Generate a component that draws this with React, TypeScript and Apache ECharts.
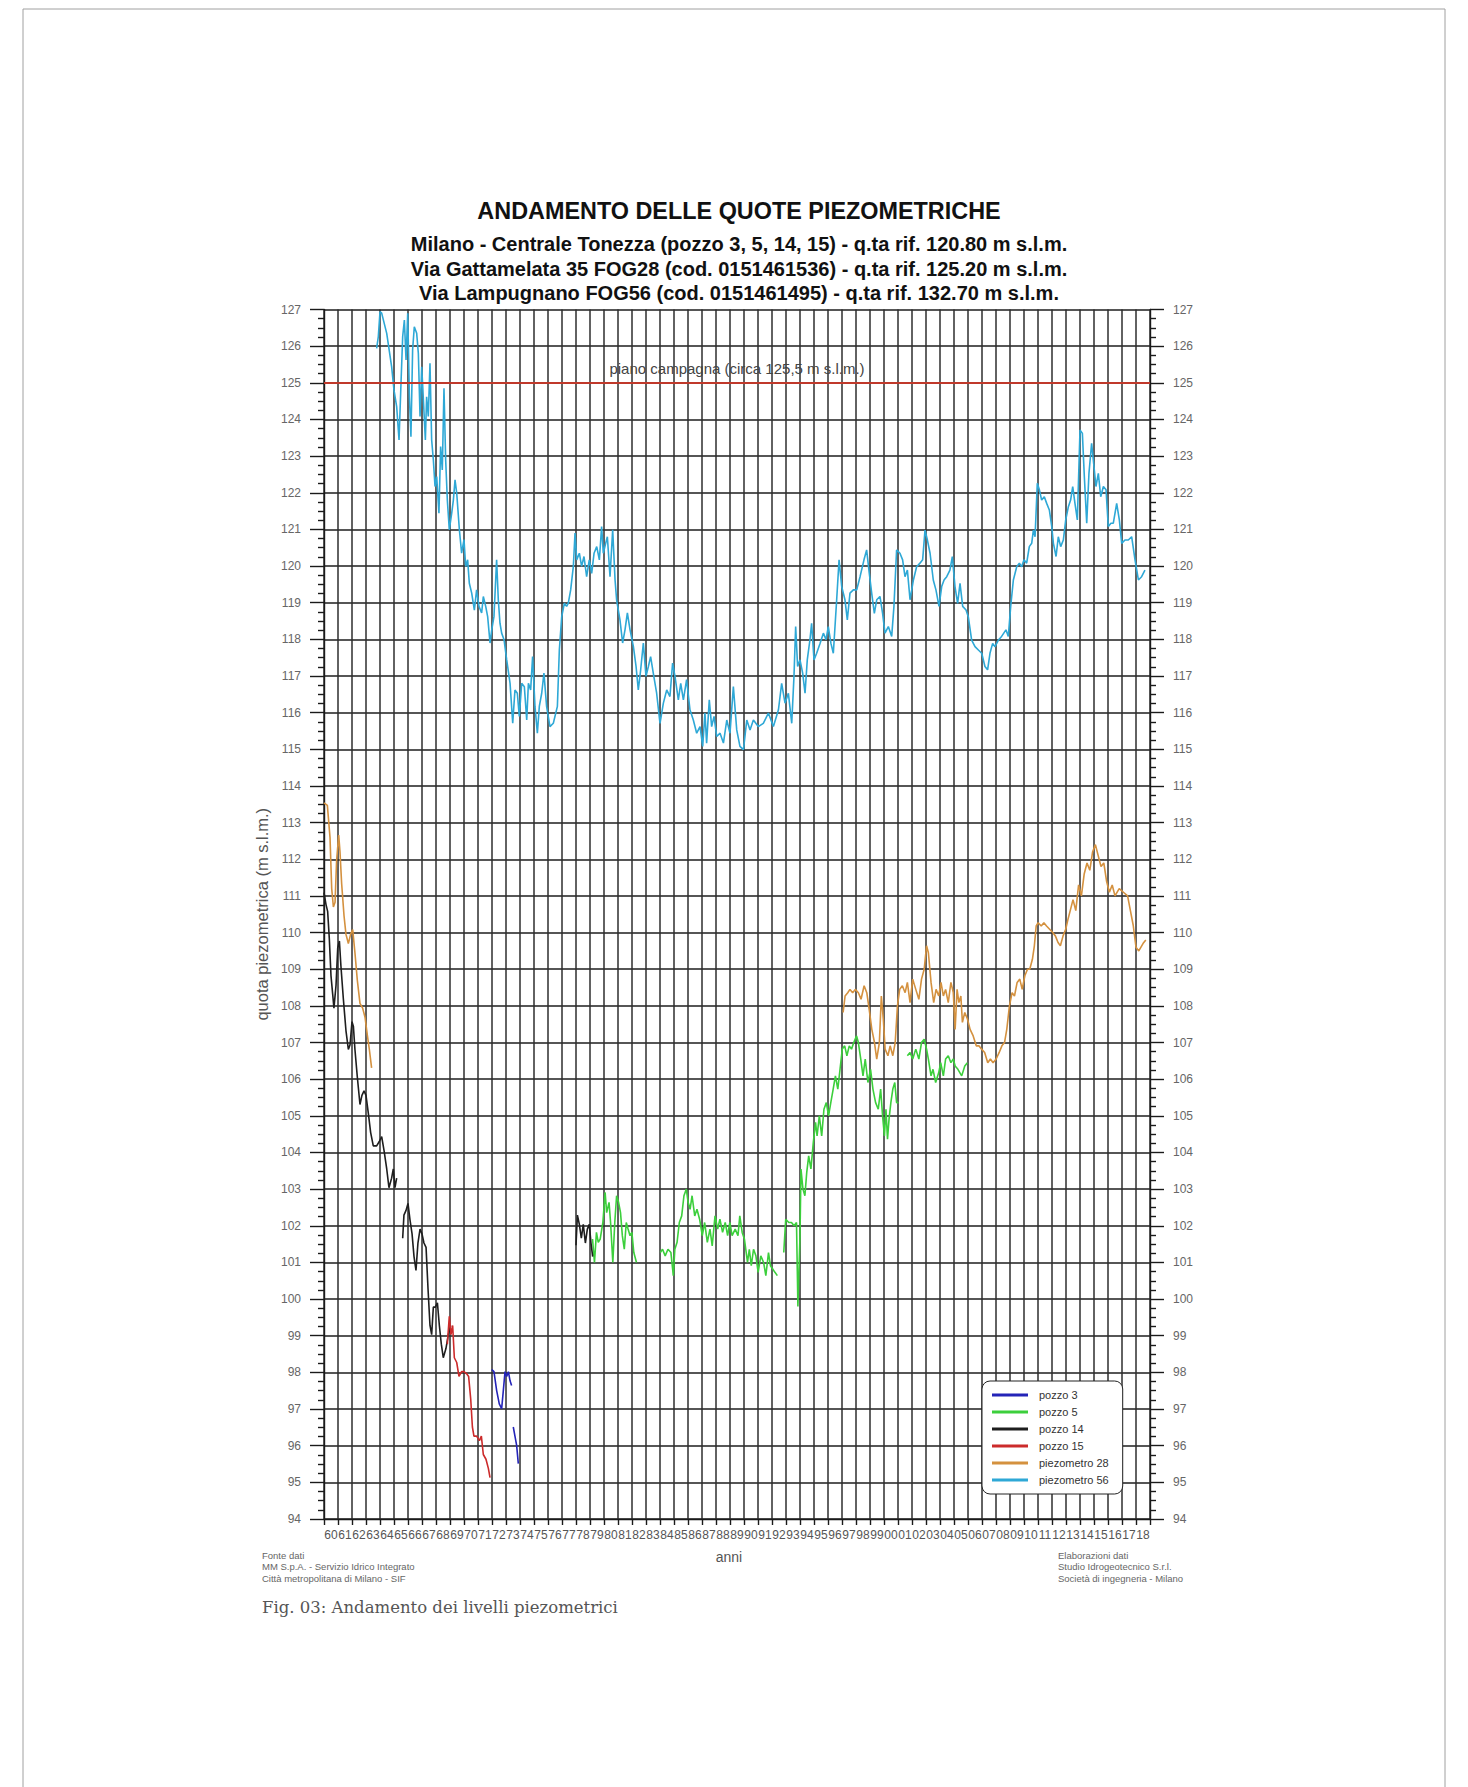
import React, { useEffect, useRef } from 'react';
import * as echarts from 'echarts';

const yearLabels = ['60','61','62','63','64','65','66','67','68','69','70','71','72','73','74','75','76','77','78','79','80','81','82','83','84','85','86','87','88','89','90','91','92','93','94','95','96','97','98','99','00','01','02','03','04','05','06','07','08','09','10','11','12','13','14','15','16','17','18'];

const seriesNames = ['pozzo 3', 'pozzo 5', 'pozzo 14', 'pozzo 15', 'piezometro 28', 'piezometro 56'];
const seriesColors = ['#2424b8', '#3ccf3c', '#1e1e1e', '#cc2b2b', '#d4913f', '#2ea8d6'];

const piezometro56: [number, number][] = [
  [1963.76,125.94],[1963.88,126.26],[1964.0,126.94],[1964.12,126.9],[1964.48,126.35],[1964.83,125.44],[1965.0,124.8],[1965.19,124.35],[1965.36,123.44],[1965.5,124.99],[1965.62,126.26],[1965.74,126.71],[1965.86,125.62],[1965.98,126.9],[1966.1,124.62],[1966.21,123.53],[1966.33,125.9],[1966.45,126.53],[1966.62,126.35],[1966.74,125.8],[1966.86,124.08],[1966.98,125.44],[1967.1,124.53],[1967.24,123.44],[1967.33,124.62],[1967.45,124.08],[1967.57,125.53],[1967.69,123.44],[1967.81,122.9],[1967.93,122.17],[1968.05,122.44],[1968.21,121.44],[1968.33,123.26],[1968.45,122.62],[1968.57,124.85],[1968.69,122.9],[1968.81,121.8],[1968.95,120.99],[1969.12,121.44],[1969.24,121.8],[1969.36,122.35],[1969.48,121.99],[1969.67,120.99],[1969.83,120.35],[1970.0,120.72],[1970.12,119.99],[1970.26,120.17],[1970.38,119.53],[1970.55,119.26],[1970.74,118.8],[1970.9,119.35],[1971.07,118.9],[1971.26,118.72],[1971.38,119.17],[1971.55,118.9],[1971.69,118.62],[1971.86,117.9],[1971.98,118.26],[1972.14,118.62],[1972.33,120.17],[1972.45,119.08],[1972.57,118.44],[1972.69,118.17],[1972.86,117.99],[1973.05,117.44],[1973.29,116.8],[1973.48,115.71],[1973.64,116.62],[1973.81,116.53],[1973.95,115.9],[1974.12,116.8],[1974.31,116.71],[1974.48,115.8],[1974.6,116.8],[1974.76,116.62],[1974.9,117.53],[1975.07,116.17],[1975.24,115.44],[1975.38,116.17],[1975.55,116.53],[1975.71,117.08],[1975.9,116.17],[1976.14,115.62],[1976.38,115.71],[1976.67,116.17],[1976.81,117.71],[1976.98,118.62],[1977.17,118.99],[1977.33,118.9],[1977.45,118.99],[1977.62,119.35],[1977.81,119.99],[1977.93,120.9],[1978.05,120.17],[1978.24,120.35],[1978.4,119.99],[1978.57,120.26],[1978.76,119.71],[1978.95,120.17],[1979.12,119.8],[1979.29,120.35],[1979.48,120.53],[1979.67,120.17],[1979.83,121.08],[1979.95,120.35],[1980.12,120.62],[1980.24,120.8],[1980.43,119.71],[1980.62,120.99],[1980.79,119.62],[1980.9,119.08],[1981.14,118.53],[1981.33,117.9],[1981.5,118.26],[1981.67,118.72],[1981.86,118.26],[1982.1,117.8],[1982.29,117.26],[1982.45,116.62],[1982.62,117.17],[1982.81,117.9],[1983.0,116.99],[1983.17,117.26],[1983.33,117.53],[1983.52,117.08],[1983.76,116.53],[1984.0,115.71],[1984.24,116.26],[1984.48,116.62],[1984.71,116.44],[1984.9,117.35],[1985.07,116.99],[1985.31,116.35],[1985.48,116.8],[1985.67,116.35],[1985.9,116.9],[1986.14,116.08],[1986.38,115.8],[1986.62,115.44],[1986.86,115.62],[1987.05,115.08],[1987.21,115.99],[1987.33,115.17],[1987.52,116.35],[1987.69,115.62],[1987.86,115.9],[1988.05,115.35],
  [1988.29,115.44],[1988.53,115.17],[1988.77,115.8],[1989.0,115.44],[1989.24,116.71],[1989.48,115.53],[1989.71,115.08],[1989.96,114.99],[1990.2,115.8],[1990.43,115.53],[1990.67,115.8],[1991.02,115.62],[1991.38,115.71],[1991.74,115.99],[1992.1,115.62],[1992.46,116.08],[1992.69,116.8],[1992.93,116.26],[1993.17,116.53],[1993.41,115.71],[1993.57,116.99],[1993.69,118.35],[1993.83,117.26],[1994.0,117.44],[1994.19,117.08],[1994.36,116.53],[1994.52,117.44],[1994.71,117.99],[1994.83,118.44],[1995.0,117.44],[1995.19,117.62],[1995.43,117.89],[1995.67,118.17],[1995.86,117.99],[1996.02,118.35],[1996.21,117.89],[1996.38,117.62],[1996.62,119.08],[1996.79,120.17],[1996.98,119.44],[1997.21,119.08],[1997.38,118.53],[1997.57,119.26],[1997.81,119.35],[1998.05,119.35],[1998.29,119.71],[1998.57,120.17],[1998.76,120.44],[1998.95,119.8],[1999.12,119.26],[1999.31,118.71],[1999.48,119.08],[1999.71,119.17],[1999.9,118.71],[2000.07,118.17],[2000.31,118.35],[2000.55,118.08],[2000.71,118.9],[2000.9,120.44],[2001.14,120.35],[2001.33,120.17],[2001.5,119.71],[2001.67,119.89],[2001.86,119.08],[2002.1,119.62],[2002.33,119.98],[2002.57,120.08],[2002.76,120.17],[2002.93,120.98],[2003.1,120.71],[2003.29,120.35],[2003.52,119.62],[2003.71,119.35],[2003.93,118.9],[2004.12,119.44],[2004.29,119.62],[2004.48,119.71],[2004.71,119.89],[2004.88,120.26],[2005.07,119.44],[2005.26,118.98],[2005.43,119.53],[2005.62,118.9],[2005.86,118.8],[2006.02,118.62],[2006.26,117.98],[2006.5,117.8],[2006.74,117.71],[2006.98,117.62],[2007.21,117.26],[2007.4,117.17],[2007.57,117.62],[2007.76,117.89],[2007.93,117.8],[2008.17,117.98],[2008.4,118.08],[2008.71,118.26],[2008.88,118.08],[2009.05,118.9],[2009.24,119.62],[2009.48,119.98],[2009.67,120.08],[2009.83,119.98],[2010.0,120.17],[2010.19,120.08],[2010.38,120.53],[2010.55,120.62],[2010.67,120.98],[2010.79,120.8],[2010.95,122.26],[2011.1,122.08],[2011.26,121.8],[2011.45,121.89],[2011.62,121.71],[2011.81,121.53],[2011.98,121.08],[2012.1,120.62],[2012.29,120.26],[2012.45,120.8],[2012.62,120.53],[2012.81,120.71],[2012.98,121.26],[2013.17,121.62],[2013.33,121.8],[2013.48,122.17],[2013.64,121.71],[2013.81,121.26],[2014.0,123.71],[2014.17,123.62],[2014.31,122.44],[2014.48,121.17],[2014.64,122.53],[2014.83,123.35],[2015.0,122.71],[2015.14,122.17],[2015.31,122.53],[2015.48,121.89],[2015.67,122.17],[2015.86,122.08],[2016.02,121.08],[2016.21,121.17],[2016.38,121.17],[2016.62,121.71],[2016.81,121.26],[2016.98,120.62],[2017.21,120.71],[2017.45,120.71],[2017.69,120.8],[2017.93,120.17],[2018.17,119.62],[2018.4,119.71],[2018.64,119.89]
];

const piezometro28Early: [number, number][] = [
  [1960.0,113.54],[1960.24,113.47],[1960.43,112.59],[1960.55,111.2],[1960.67,110.7],[1960.79,110.83],[1960.9,111.96],[1961.05,112.66],[1961.14,112.22],[1961.26,111.34],[1961.43,110.46],[1961.57,109.95],[1961.74,109.7],[1961.9,109.95],[1962.05,110.08],[1962.21,109.45],[1962.38,108.7],[1962.57,108.07],[1962.76,107.94],[1962.93,107.69],[1963.1,107.19],[1963.24,106.81],[1963.4,106.31]
];

const piezometro28Late: [number, number][] = [
  [1997.08,107.82],[1997.22,108.27],[1997.41,108.36],[1997.57,108.45],[1997.76,108.36],[1997.95,108.45],[1998.17,108.36],[1998.36,108.18],[1998.58,108.55],[1998.77,108.36],[1998.94,107.91],[1999.13,107.36],[1999.32,107.0],[1999.48,106.55],[1999.67,107.0],[1999.81,108.27],[1999.95,107.64],[2000.08,106.82],[2000.28,106.64],[2000.44,106.91],[2000.63,106.64],[2000.8,107.0],[2000.96,108.0],[2001.12,108.45],[2001.31,108.55],[2001.51,108.36],[2001.67,108.64],[2001.86,108.09],[2002.05,108.73],[2002.27,108.45],[2002.49,108.18],[2002.68,108.73],[2002.87,109.0],[2003.04,109.64],[2003.17,109.45],[2003.36,108.64],[2003.55,108.09],[2003.72,108.45],[2003.91,108.27],[2004.07,108.64],[2004.24,108.27],[2004.4,108.45],[2004.59,108.09],[2004.78,108.64],[2004.95,108.36],[2005.08,107.36],[2005.22,108.45],[2005.35,108.09],[2005.49,108.27],[2005.6,107.55],[2005.77,107.82],[2005.96,107.64],[2006.15,107.36],[2006.37,107.18],[2006.59,106.91],[2006.78,106.91],[2006.97,106.82],[2007.19,106.73],[2007.41,106.45],[2007.6,106.55],[2007.79,106.45],[2008.01,106.55],[2008.23,106.73],[2008.42,106.91],[2008.61,107.0],[2008.77,107.36],[2008.96,108.0],[2009.15,108.36],[2009.32,108.27],[2009.51,108.64],[2009.7,108.73],[2009.87,108.45],[2010.06,108.82],[2010.25,109.0],[2010.41,109.0],[2010.6,109.27],[2010.74,109.64],[2010.87,110.18],[2011.01,110.27],[2011.23,110.18],[2011.42,110.27],[2011.61,110.18],[2011.83,110.09],[2012.05,110.0],[2012.24,109.91],[2012.43,109.73],[2012.6,109.64],[2012.79,109.91],[2012.98,110.09],[2013.14,110.36],[2013.33,110.64],[2013.5,110.9],[2013.7,110.6],[2013.9,111.3],[2014.1,111.0],[2014.3,111.6],[2014.5,111.9],[2014.7,111.7],[2014.9,112.2],[2015.1,112.4],[2015.3,112.1],[2015.5,111.8],[2015.7,111.9],[2015.9,111.4],[2016.1,111.1],[2016.3,111.3],[2016.5,111.0],[2016.8,111.2],[2017.1,111.1],[2017.4,111.0],[2017.6,110.6],[2017.8,110.2],[2018.0,109.6],[2018.2,109.5],[2018.5,109.7],[2018.7,109.8]
];

const pozzo14A: [number, number][] = [
  [1960.0,111.09],[1960.14,110.77],[1960.26,110.58],[1960.38,109.83],[1960.5,108.82],[1960.62,108.32],[1960.71,107.94],[1960.86,108.57],[1960.98,109.58],[1961.1,109.77],[1961.21,109.08],[1961.38,108.2],[1961.57,107.32],[1961.74,106.81],[1961.86,106.94],[1962.0,107.57],[1962.1,107.44],[1962.21,106.81],[1962.38,106.06],[1962.57,105.31],[1962.71,105.56],[1962.86,105.68],[1963.0,105.56],[1963.17,105.06],[1963.33,104.55],[1963.52,104.18],[1963.76,104.18],[1963.95,104.3],[1964.12,104.43],[1964.29,104.05],[1964.48,103.55],[1964.64,103.04],[1964.83,103.3],[1964.95,103.55],[1965.07,103.04],[1965.19,103.3]
];
const pozzo14B: [number, number][] = [
  [1965.62,101.66],[1965.71,102.29],[1965.86,102.42],[1966.0,102.61],[1966.14,102.17],[1966.29,101.78],[1966.43,101.16],[1966.57,100.78],[1966.71,101.53],[1966.86,101.91],[1967.0,101.78],[1967.14,101.53],[1967.29,101.41],[1967.43,100.28],[1967.57,99.28],[1967.69,99.03],[1967.81,99.78],[1967.95,99.78],[1968.1,99.9],[1968.24,99.28],[1968.38,98.77],[1968.52,98.4],[1968.71,98.65],[1968.88,99.03],[1969.05,99.28]
];
const pozzo14C: [number, number][] = [
  [1978.0,101.47],[1978.1,102.29],[1978.24,102.04],[1978.38,101.66],[1978.52,102.04],[1978.67,101.53],[1978.81,101.91],[1978.95,102.04],[1979.07,101.53],[1979.19,101.16]
];

const pozzo15: [number, number][] = [
  [1968.81,98.77],[1968.95,99.53],[1969.07,99.03],[1969.19,99.28],[1969.31,98.4],[1969.48,98.27],[1969.64,97.89],[1969.83,98.02],[1970.0,98.02],[1970.19,97.96],[1970.33,97.89],[1970.48,97.27],[1970.6,96.51],[1970.71,96.26],[1970.9,96.26],[1971.1,96.14],[1971.24,96.26],[1971.38,95.76],[1971.57,95.63],[1971.74,95.38],[1971.86,95.13]
];

const pozzo3A: [number, number][] = [
  [1971.98,98.08],[1972.14,98.02],[1972.33,97.51],[1972.52,97.14],[1972.69,97.01],[1972.81,97.51],[1972.93,98.02],[1973.05,97.89],[1973.17,98.02],[1973.29,97.77],[1973.4,97.64]
];
const pozzo3B: [number, number][] = [
  [1973.52,96.51],[1973.64,96.26],[1973.76,96.01],[1973.88,95.51]
];

const pozzo5A: [number, number][] = [
  [1979.18,101.64],[1979.32,101.0],[1979.46,101.82],[1979.59,101.55],[1979.73,101.64],[1979.92,102.09],[1980.08,102.91],[1980.19,102.36],[1980.36,102.64],[1980.47,102.09],[1980.63,101.0],[1980.77,102.09],[1980.9,102.82],[1981.04,102.64],[1981.18,102.36],[1981.31,101.73],[1981.45,101.36],[1981.59,102.09],[1981.72,101.91],[1981.86,101.73],[1981.99,101.82],[1982.13,101.27],[1982.32,101.0]
];
const pozzo5B: [number, number][] = [
  [1984.02,101.27],[1984.18,101.36],[1984.37,101.18],[1984.57,101.36],[1984.78,101.27],[1984.95,100.64],[1985.06,101.36],[1985.22,101.55],[1985.38,102.09],[1985.55,102.27],[1985.71,102.82],[1985.88,103.0],[1986.01,102.64],[1986.15,102.45],[1986.29,102.82],[1986.48,102.27],[1986.64,102.45],[1986.83,102.18],[1987.02,101.73],[1987.19,102.09],[1987.38,101.55],[1987.57,101.91],[1987.73,101.45],[1987.93,102.27],[1988.12,101.91],[1988.28,102.18],[1988.47,101.82],[1988.66,102.09],[1988.83,101.73],[1988.99,102.09],[1989.15,101.73],[1989.37,101.91],[1989.57,101.73],[1989.7,102.27],[1989.87,101.82],[1990.03,101.64],[1990.25,101.0],[1990.38,101.36],[1990.52,100.91],[1990.68,101.36],[1990.85,101.18],[1991.01,100.73],[1991.2,101.18],[1991.4,101.0],[1991.56,100.64],[1991.75,101.27],[1991.89,100.91],[1992.05,100.82],[1992.21,100.73],[1992.38,100.64]
];
const pozzo5C: [number, number][] = [
  [1992.84,101.27],[1992.98,102.18],[1993.2,102.09],[1993.39,102.09],[1993.58,102.0],[1993.75,102.09],[1993.85,99.8],[1994.0,101.73],[1994.07,103.55],[1994.21,103.0],[1994.35,102.82],[1994.48,103.45],[1994.62,103.91],[1994.78,103.55],[1994.95,104.27],[1995.11,104.82],[1995.22,104.45],[1995.38,105.0],[1995.55,104.45],[1995.71,105.18],[1995.88,105.36],[1996.04,105.0],[1996.2,105.36],[1996.37,105.73],[1996.53,106.09],[1996.7,105.73],[1996.86,106.27],[1997.02,106.82],[1997.19,106.91],[1997.35,106.64],[1997.52,106.91],[1997.68,106.82],[1997.84,107.0],[1998.04,107.18],[1998.17,107.0],[1998.34,106.55],[1998.5,106.09],[1998.66,106.55],[1998.85,105.91],[1999.04,106.27],[1999.21,105.73],[1999.4,105.36],[1999.59,105.18],[1999.76,105.73],[1999.9,105.0],[2000.03,104.45],[2000.14,105.18],[2000.25,104.36],[2000.36,104.91],[2000.49,105.36],[2000.63,105.73],[2000.77,105.91],[2000.9,105.36],[2001.04,105.36]
];
const pozzo5D: [number, number][] = [
  [2001.67,106.64],[2001.86,106.73],[2002.05,106.55],[2002.27,106.82],[2002.49,106.55],[2002.68,107.0],[2002.87,107.09],[2003.04,106.82],[2003.17,106.55],[2003.36,106.09],[2003.5,106.27],[2003.69,105.91],[2003.91,106.18],[2004.05,106.45],[2004.24,106.09],[2004.4,106.55],[2004.59,106.64],[2004.78,106.45],[2004.95,106.55],[2005.08,106.36],[2005.28,106.27],[2005.55,106.09],[2005.77,106.36],[2005.96,106.45]
];

const groundLevel = 125;
const groundLabel = 'piano campagna (circa 125,5 m s.l.m.)';

function joinSegments(segs: [number, number][][]): any[] {
  const out: any[] = [];
  segs.forEach((s, i) => {
    if (i > 0) {
      const prev = segs[i - 1][segs[i - 1].length - 1][0];
      out.push([(prev + s[0][0]) / 2, '-']);
    }
    s.forEach((p) => out.push(p));
  });
  return out;
}

const FONT = "'Liberation Sans', Arial, Helvetica, sans-serif";

export default function App() {
  const ref = useRef<HTMLDivElement>(null);
  useEffect(() => {
    document.body.style.margin = '0';
    const chart = echarts.init(ref.current as HTMLDivElement, null, { renderer: 'svg' });
    const seriesData = [
      joinSegments([pozzo3A, pozzo3B]),
      joinSegments([pozzo5A, pozzo5B, pozzo5C, pozzo5D]),
      joinSegments([pozzo14A, pozzo14B, pozzo14C]),
      pozzo15,
      joinSegments([piezometro28Early, piezometro28Late]),
      piezometro56,
    ];
    const axisColor = '#1a1a1a';
    const yCommon = {
      type: 'value',
      min: 94,
      max: 127,
      interval: 1,
      axisLine: { show: true, lineStyle: { color: axisColor, width: 1.4 } },
      axisTick: { show: true, length: 14, lineStyle: { color: axisColor, width: 1.4 } },
      minorTick: { show: true, splitNumber: 4, length: 6, lineStyle: { color: axisColor, width: 1.4 } },
      axisLabel: { fontSize: 12, color: '#666', margin: 23, fontFamily: FONT },
    };
    const titleStyle = (text: string, size: number) => ({
      text, fontSize: size, fontWeight: 'bold', fontFamily: FONT, fill: '#111', align: 'center', verticalAlign: 'middle',
    });
    const noteStyle = (text: string) => ({
      text, fontSize: 9.5, fontFamily: FONT, fill: '#666', align: 'left', verticalAlign: 'middle',
    });
    const option: any = {
      animation: false,
      backgroundColor: '#fff',
      textStyle: { fontFamily: FONT },
      grid: { left: 324, right: 318, top: 309.5, bottom: 268, containLabel: false },
      xAxis: [
        {
          type: 'value',
          min: 1960,
          max: 2019,
          interval: 1,
          axisLabel: { show: false },
          axisLine: { show: true, onZero: false, lineStyle: { color: axisColor, width: 1.4 } },
          axisTick: { show: true, length: 6, lineStyle: { color: axisColor, width: 1.4 } },
          splitLine: { show: true, lineStyle: { color: '#2e2e2e', width: 1.5 } },
        },
        {
          type: 'category',
          data: yearLabels,
          position: 'bottom',
          boundaryGap: true,
          axisLine: { show: false },
          axisTick: { show: false },
          splitLine: { show: false },
          axisLabel: { interval: 0, fontSize: 12, color: '#555', margin: 10, fontFamily: FONT },
        },
      ],
      yAxis: [
        {
          ...yCommon,
          position: 'left',
          name: 'quota piezometrica (m s.l.m.)',
          nameLocation: 'middle',
          nameGap: 43,
          nameTextStyle: { fontSize: 16.5, color: '#555', fontFamily: FONT },
          splitLine: { show: true, lineStyle: { color: '#1e1e1e', width: 1.5 } },
        },
        {
          ...yCommon,
          position: 'right',
          splitLine: { show: false },
        },
      ],
      legend: {
        orient: 'vertical',
        left: 982,
        top: 1381,
        z: 10,
        data: seriesNames,
        icon: 'rect',
        itemWidth: 36,
        itemHeight: 3,
        itemGap: 3,
        backgroundColor: '#fff',
        borderColor: '#222',
        borderWidth: 1,
        borderRadius: 8,
        padding: [7, 14, 7, 10],
        textStyle: { fontSize: 11, lineHeight: 14, color: '#333', padding: [0, 0, 0, 6], fontFamily: FONT },
      },
      graphic: [
        { type: 'rect', silent: true, shape: { x: 23, y: 9, width: 1422, height: 1800 }, style: { fill: 'none', stroke: '#a0a0a0', lineWidth: 1 } },
        { type: 'text', x: 739, y: 211, style: titleStyle('ANDAMENTO DELLE QUOTE PIEZOMETRICHE', 23.4) },
        { type: 'text', x: 739, y: 244, style: titleStyle('Milano - Centrale Tonezza (pozzo 3, 5, 14, 15) - q.ta rif. 120.80 m s.l.m.', 20) },
        { type: 'text', x: 739, y: 269, style: titleStyle('Via Gattamelata 35 FOG28 (cod. 0151461536) - q.ta rif. 125.20 m s.l.m.', 20) },
        { type: 'text', x: 739, y: 293, style: titleStyle('Via Lampugnano FOG56 (cod. 0151461495) - q.ta rif. 132.70 m s.l.m.', 20) },
        { type: 'text', x: 729, y: 1557, style: { text: 'anni', fontSize: 14, fontFamily: FONT, fill: '#555', align: 'center', verticalAlign: 'middle' } },
        { type: 'text', x: 262, y: 1555, style: noteStyle('Fonte dati') },
        { type: 'text', x: 262, y: 1566, style: noteStyle('MM S.p.A. - Servizio Idrico Integrato') },
        { type: 'text', x: 262, y: 1578, style: noteStyle('Città metropolitana di Milano - SIF') },
        { type: 'text', x: 1058, y: 1555, style: noteStyle('Elaborazioni dati') },
        { type: 'text', x: 1058, y: 1566, style: noteStyle('Studio Idrogeotecnico S.r.l.') },
        { type: 'text', x: 1058, y: 1578, style: noteStyle('Società di ingegneria - Milano') },
        { type: 'text', x: 262, y: 1607, style: { text: 'Fig. 03: Andamento dei livelli piezometrici', fontSize: 16.5, fontFamily: "'DejaVu Serif', 'Liberation Serif', serif", fill: '#555', align: 'left', verticalAlign: 'middle' } },
      ],
      series: seriesNames.map((name, i) => ({
        name,
        type: 'line',
        xAxisIndex: 0,
        yAxisIndex: 0,
        data: seriesData[i],
        symbol: 'none',
        showSymbol: false,
        connectNulls: false,
        clip: true,
        color: seriesColors[i],
        lineStyle: { color: seriesColors[i], width: 1.6 },
        z: 3,
        markLine: i === 5 ? {
          silent: true,
          symbol: 'none',
          lineStyle: { color: '#c0392b', width: 2, type: 'solid' },
          label: { show: true, formatter: groundLabel, position: 'insideMiddleTop', distance: 7, fontSize: 15, color: '#444', fontFamily: FONT },
          data: [{ yAxis: groundLevel }],
        } : undefined,
      })),
    };
    chart.setOption(option);
    return () => chart.dispose();
  }, []);
  return <div ref={ref} style={{ width: 1468, height: 1787 }} />;
}
